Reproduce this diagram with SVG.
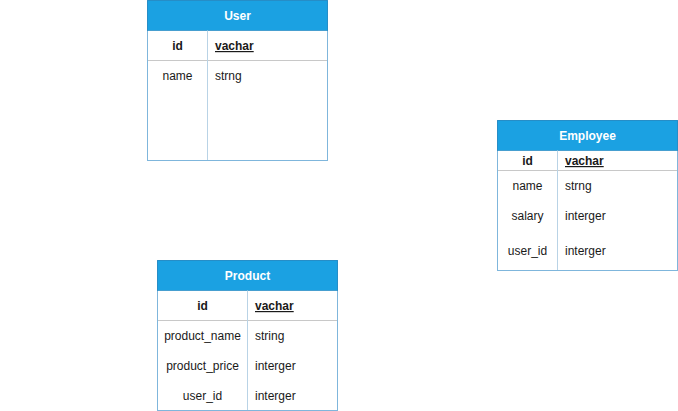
<svg xmlns="http://www.w3.org/2000/svg" width="678" height="411" viewBox="0 0 678 411">
<style>
.hdr{fill:#1ba1e2;stroke:#006eaf;stroke-opacity:0.5}
.box{fill:#ffffff;stroke:#7fb6dc}
.sep{stroke:#c8c8c8;stroke-width:1}
.col{stroke:#b9d3e6;stroke-width:1}
.faint{stroke:#eaeaea;stroke-width:1}
text{font-family:"Liberation Sans",Arial,sans-serif;font-size:12px;fill:#1a1a1a}
.ht{fill:#ffffff;font-weight:bold;text-anchor:middle}
.k{font-weight:bold;text-anchor:middle}
.kt{font-weight:bold;text-decoration:underline}
.c{text-anchor:middle}
</style>
<g id="connectors"></g>
<g id="user">
<rect class="box" x="147.5" y="0.5" width="180" height="160"/>
<rect class="hdr" x="147.5" y="0.5" width="180" height="30"/>
<line class="sep" x1="148" y1="60.5" x2="327" y2="60.5"/>
<line class="col" x1="207.5" y1="30.5" x2="207.5" y2="160"/>
<text class="ht" x="237.5" y="20">User</text>
<text class="k" x="177.5" y="50">id</text>
<text class="kt" x="215" y="50">vachar</text>
<text class="c" x="177.5" y="80">name</text>
<text x="215" y="80">strng</text>
</g>
<g id="employee">
<rect class="box" x="497.5" y="120.5" width="180" height="150"/>
<rect class="hdr" x="497.5" y="120.5" width="180" height="30"/>
<line class="sep" x1="498" y1="170.5" x2="677" y2="170.5"/>
<line class="col" x1="557.5" y1="150.5" x2="557.5" y2="270"/>
<text class="ht" x="587.5" y="140">Employee</text>
<text class="k" x="527.5" y="165">id</text>
<text class="kt" x="565" y="165">vachar</text>
<text class="c" x="527.5" y="190">name</text>
<text x="565" y="190">strng</text>
<text class="c" x="527.5" y="220">salary</text>
<text x="565" y="220">interger</text>
<text class="c" x="527.5" y="255">user_id</text>
<text x="565" y="255">interger</text>
</g>
<g id="product">
<rect class="box" x="157.5" y="260.5" width="180" height="150"/>
<rect class="hdr" x="157.5" y="260.5" width="180" height="30"/>
<line class="sep" x1="158" y1="320.5" x2="337" y2="320.5"/>
<line class="col" x1="247.5" y1="290.5" x2="247.5" y2="410"/>
<text class="ht" x="247.5" y="280">Product</text>
<text class="k" x="202.5" y="310">id</text>
<text class="kt" x="255" y="310">vachar</text>
<text class="c" x="202.5" y="340">product_name</text>
<text x="255" y="340">string</text>
<text class="c" x="202.5" y="370">product_price</text>
<text x="255" y="370">interger</text>
<text class="c" x="202.5" y="400">user_id</text>
<text x="255" y="400">interger</text>
</g>
</svg>
